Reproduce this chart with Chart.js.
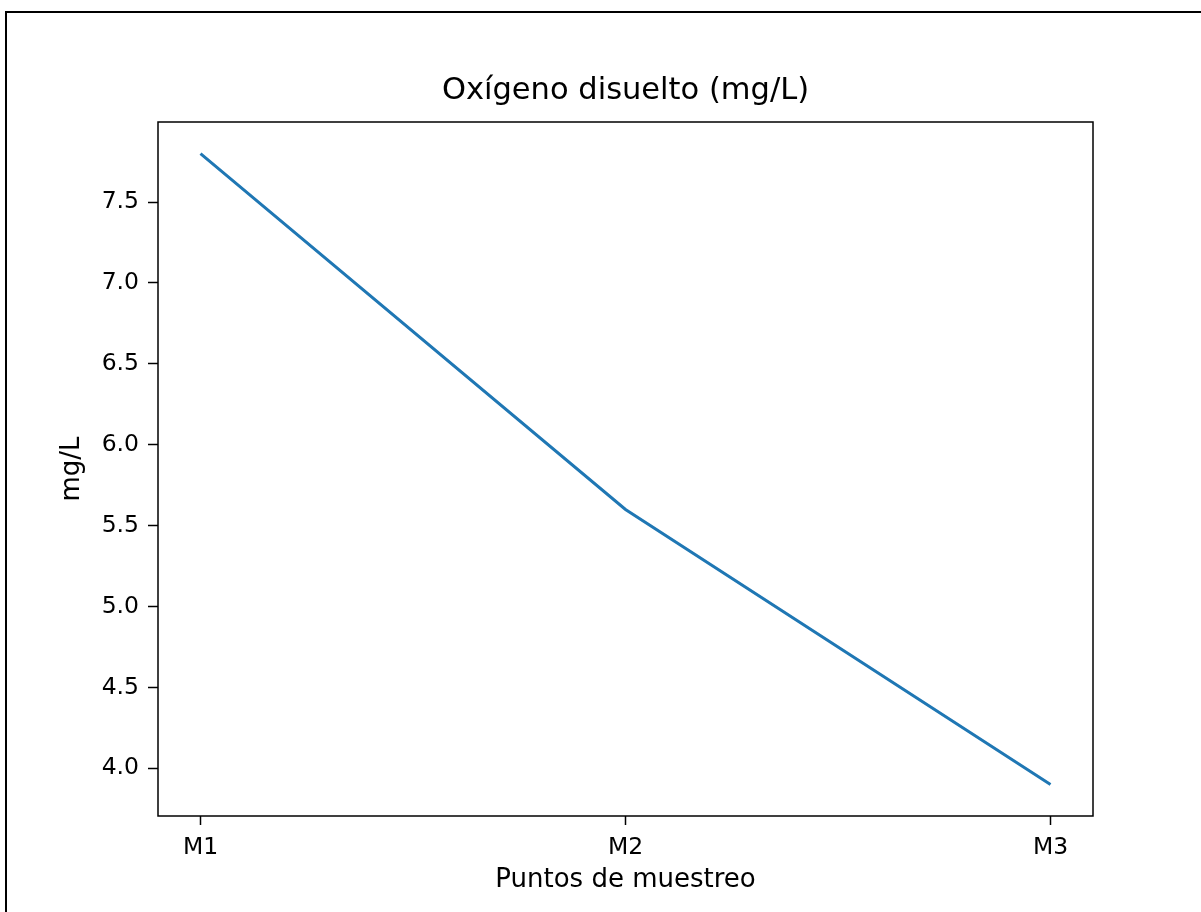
<!DOCTYPE html>
<html>
<head>
<meta charset="utf-8">
<script src="https://cdn.jsdelivr.net/npm/chart.js@4/dist/chart.umd.min.js"></script>
<style>
  html, body { margin: 0; padding: 0; background: #fff; overflow: hidden; }
  #wrap { width: 1201px; height: 912px; position: relative; }
</style>
</head>
<body>
<div id="wrap"><canvas id="myChart" width="1201" height="912"></canvas></div>
<script>
const ctx = document.getElementById("myChart");

// data
const categories = ['M1', 'M2', 'M3'];
const oxygen = [7.8, 5.6, 3.9];
const yTicks = [4.0, 4.5, 5.0, 5.5, 6.0, 6.5, 7.0, 7.5];

const points = categories.map((c, i) => ({ x: i, y: oxygen[i] }));

// matplotlib style 5% margins
const yMin = Math.min(...oxygen), yMax = Math.max(...oxygen);
const yPad = (yMax - yMin) * 0.05;
const xPad = (categories.length - 1) * 0.05;

const frame = {
    id: 'frame',
    afterDraw: (chart) => {
        const { ctx, chartArea: { top, right, bottom, left } } = chart;
        ctx.save();
        ctx.strokeStyle = '#000';
        ctx.lineWidth = 1.5;
        ctx.strokeRect(left, top, right - left, bottom - top);
        // outer page border (top and left only)
        ctx.fillStyle = '#000';
        ctx.fillRect(5, 11, 1196, 2);
        ctx.fillRect(5, 11, 2, 901);
        ctx.restore();
    }
};

new Chart(ctx, {
    type: 'line',
    data: {
        datasets: [{
            label: 'Oxígeno disuelto',
            data: points,
            borderColor: '#1f77b4',
            borderWidth: 3,
            pointRadius: 0,
            fill: false,
            tension: 0
        }]
    },
    options: {
        responsive: false,
        animation: false,
        layout: { padding: { left: 0, right: 108, top: 0, bottom: 0 } },
        plugins: {
            legend: { display: false },
            tooltip: { enabled: false },
            title: {
                display: true,
                fullSize: false,
                text: 'Oxígeno disuelto (mg/L)',
                color: '#000',
                font: { family: 'DejaVu Sans', size: 30.5, weight: 'normal' },
                padding: { top: 72.7, bottom: 12.7 }
            }
        },
        scales: {
            x: {
                type: 'linear',
                min: -xPad,
                max: categories.length - 1 + xPad,
                afterFit: (s) => { s.height = 96; },
                afterBuildTicks: (s) => { s.ticks = categories.map((c, i) => ({ value: i })); },
                grid: { drawOnChartArea: false, tickLength: 9, tickColor: '#000', tickWidth: 1.5 },
                border: { display: false },
                ticks: {
                    color: '#000',
                    padding: 9,
                    maxRotation: 0,
                    font: { family: 'DejaVu Sans', size: 23.5 },
                    callback: (v) => categories[v]
                },
                title: {
                    display: true,
                    text: 'Puntos de muestreo',
                    color: '#000',
                    font: { family: 'DejaVu Sans', size: 26 },
                    padding: { top: 0, bottom: 16.4 }
                }
            },
            y: {
                min: yMin - yPad,
                max: yMax + yPad,
                afterFit: (s) => { s.width = 158; },
                afterBuildTicks: (s) => { s.ticks = yTicks.map(v => ({ value: v })); },
                grid: { drawOnChartArea: false, tickLength: 10, tickColor: '#000', tickWidth: 1.5 },
                border: { display: false },
                ticks: {
                    color: '#000',
                    padding: 9,
                    font: { family: 'DejaVu Sans', size: 23.5 },
                    callback: (v) => Number(v).toFixed(1)
                },
                title: {
                    display: true,
                    text: 'mg/L',
                    color: '#000',
                    font: { family: 'DejaVu Sans', size: 26 },
                    padding: { top: 56.4, bottom: 0 }
                }
            }
        }
    },
    plugins: [frame]
});
</script>
</body>
</html>
